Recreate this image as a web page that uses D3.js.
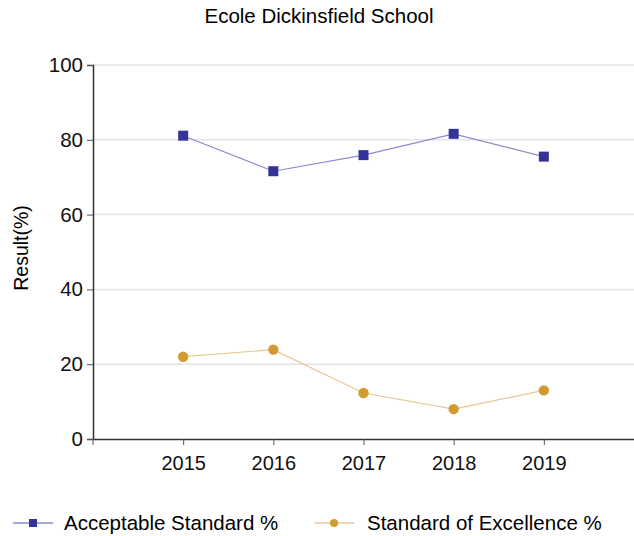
<!DOCTYPE html>
<html><head><meta charset="utf-8">
<script src="https://cdn.jsdelivr.net/npm/d3@7"></script>
<style>body{margin:0;background:#fff}svg{font-family:"Liberation Sans",Arial,sans-serif}</style>
</head><body><svg id="c" width="634" height="536"></svg>
<script>
const years = ["2015","2016","2017","2018","2019"];
const acceptable = [81.1, 71.6, 75.9, 81.6, 75.5];
const excellence = [22.0, 23.9, 12.3, 8.0, 13.0];
const yTicks = [0,20,40,60,80,100];

const svg = d3.select("#c");
const L=93, R=634, T=65, B=439;
const FF = "Liberation Sans, Arial, sans-serif";
const x = d3.scalePoint().domain(years).range([L,R]).padding(1);
const y = d3.scaleLinear().domain([0,100]).range([B,T]);

svg.append("text").attr("x",319).attr("y",23).attr("text-anchor","middle").attr("font-size",20.5).text("Ecole Dickinsfield School");

svg.append("g").selectAll("line").data(yTicks.filter(d=>d>0)).join("line")
  .attr("x1",L).attr("x2",R).attr("y1",d=>y(d)).attr("y2",d=>y(d)).attr("stroke","#e3e3e3").attr("stroke-width",1.5);

const ya = svg.append("g").attr("transform",`translate(${L},0)`).call(d3.axisLeft(y).tickValues(yTicks).tickSize(6).tickPadding(4));
ya.select(".domain").attr("stroke","#333").attr("stroke-width",1.5);
ya.selectAll(".tick line").attr("stroke","#555");
ya.selectAll("text").attr("font-size",20.5).attr("font-family",FF).attr("fill","#111");

const xa = svg.append("g").attr("transform",`translate(0,${B})`).call(d3.axisBottom(x).tickSize(6).tickPadding(11).tickSizeOuter(0));
xa.select(".domain").attr("stroke","#333").attr("stroke-width",1.5);
xa.selectAll(".tick line").attr("stroke","#555");
xa.selectAll("text").attr("font-size",20).attr("font-family",FF).attr("fill","#111");
svg.append("line").attr("x1",L).attr("x2",L).attr("y1",B).attr("y2",B+6).attr("stroke","#555");

svg.append("text").attr("transform",`translate(28,248) rotate(-90)`).attr("text-anchor","middle").attr("font-size",19.5).text("Result(%)");

const line = d3.line().x((d,i)=>x(years[i])).y(d=>y(d));
svg.append("path").attr("d",line(acceptable)).attr("fill","none").attr("stroke","#8a8ad0").attr("stroke-width",1.2);
svg.append("path").attr("d",line(excellence)).attr("fill","none").attr("stroke","#e8c890").attr("stroke-width",1.2);
svg.append("g").selectAll("rect").data(acceptable).join("rect")
  .attr("x",(d,i)=>x(years[i])-5).attr("y",d=>y(d)-5).attr("width",10).attr("height",10).attr("fill","#333399");
svg.append("g").selectAll("circle").data(excellence).join("circle")
  .attr("cx",(d,i)=>x(years[i])).attr("cy",d=>y(d)).attr("r",5.2).attr("fill","#d19b32");

// legend
const lg = svg.append("g");
lg.append("line").attr("x1",13).attr("x2",53).attr("y1",523).attr("y2",523).attr("stroke","#8a8ad0").attr("stroke-width",1.5);
lg.append("rect").attr("x",29).attr("y",519).attr("width",8).attr("height",8).attr("fill","#333399");
lg.append("text").attr("x",64).attr("y",530).attr("font-size",20.5).text("Acceptable Standard %");
lg.append("line").attr("x1",315).attr("x2",354).attr("y1",523).attr("y2",523).attr("stroke","#e8c890").attr("stroke-width",1.5);
lg.append("circle").attr("cx",334).attr("cy",523).attr("r",4).attr("fill","#d19b32");
lg.append("text").attr("x",367).attr("y",530).attr("font-size",20.5).text("Standard of Excellence %");
</script></body></html>
